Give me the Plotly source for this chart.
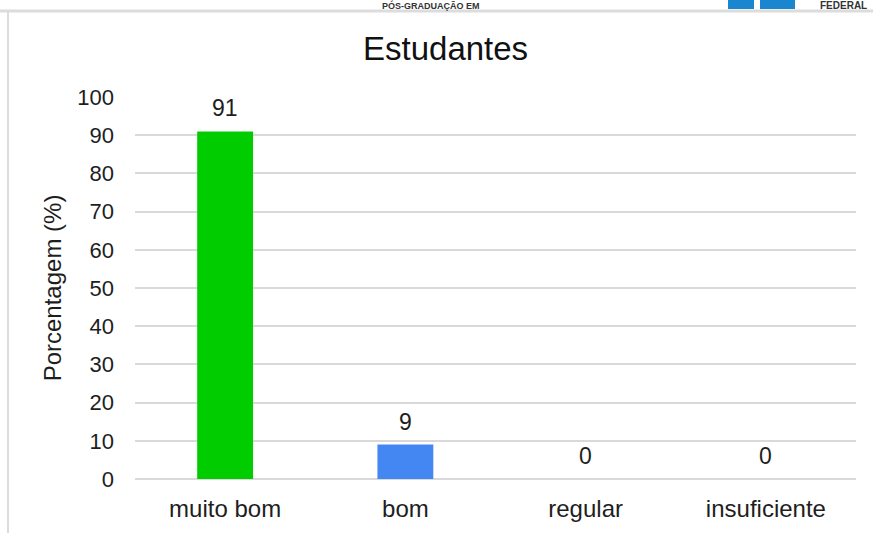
import plotly.graph_objects as go

categories = ["muito bom", "bom", "regular", "insuficiente"]
values = [91, 9, 0, 0]
colors = ["#00CC00", "#4487F3", "#4487F3", "#4487F3"]
y_ticks = [0, 10, 20, 30, 40, 50, 60, 70, 80, 90, 100]

W, H = 873, 533
L, R, T, B = 135, 17, 97, 54
pw, ph = W - L - R, H - T - B

def px(x):
    return (x - L) / pw

def py(y):
    return (H - B - y) / ph

font = "Liberation Sans, Arial, sans-serif"
txt = "#1e1e1e"

fig = go.Figure()
fig.add_trace(go.Bar(
    x=categories, y=values, marker=dict(color=colors, line=dict(width=0)),
    hoverinfo="x+y",
))

for c, v in zip(categories, values):
    fig.add_annotation(x=c, y=v, text=str(v), showarrow=False, yanchor="middle",
                       yshift=23, font=dict(size=23, color=txt, family=font))

# title
fig.add_annotation(xref="paper", yref="paper", x=px(445), y=py(48), text="Estudantes",
                   showarrow=False, font=dict(size=33, color="#111111", family=font),
                   xanchor="center", yanchor="middle")

# header fragments (slide background)
fig.add_annotation(xref="paper", yref="paper", x=px(431), y=py(5), text="<b>PÓS-GRADUAÇÃO EM</b>",
                   showarrow=False, font=dict(size=9, color="#333333", family=font),
                   xanchor="center", yanchor="middle", borderpad=0)
fig.add_annotation(xref="paper", yref="paper", x=px(843), y=py(5), text="<b>FEDERAL</b>",
                   showarrow=False, font=dict(size=10, color="#333333", family=font),
                   xanchor="center", yanchor="middle", borderpad=0)
fig.add_shape(type="rect", xref="paper", yref="paper", x0=px(728), x1=px(754), y0=py(9), y1=py(-2),
              fillcolor="#1a86d0", line=dict(width=0), layer="above")
fig.add_shape(type="rect", xref="paper", yref="paper", x0=px(760), x1=px(795), y0=py(9), y1=py(-2),
              fillcolor="#1a86d0", line=dict(width=0), layer="above")
fig.add_shape(type="line", xref="paper", yref="paper", x0=px(0), x1=px(873), y0=py(11), y1=py(11),
              line=dict(color="#dcdcdc", width=3), layer="above")
fig.add_shape(type="line", xref="paper", yref="paper", x0=px(8), x1=px(8), y0=py(11), y1=py(533),
              line=dict(color="#dcdcdc", width=2), layer="above")

fig.update_layout(
    width=W, height=H,
    margin=dict(l=L, r=R, t=T, b=B, pad=0),
    paper_bgcolor="white", plot_bgcolor="white",
    bargap=0.69,
    showlegend=False,
    font=dict(family=font, color=txt),
    xaxis=dict(tickfont=dict(size=24, color=txt), showgrid=False, showline=False,
               ticks="", ticklabelstandoff=13),
    yaxis=dict(range=[0, 100], tickvals=y_ticks, tickfont=dict(size=22, color=txt),
               gridcolor="#d9d9d9", gridwidth=2, zeroline=True, zerolinecolor="#d9d9d9",
               zerolinewidth=2, showline=False, ticks="", ticklabelstandoff=20,
               title=dict(text="Porcentagem (%)", font=dict(size=24, color=txt), standoff=8)),
)

fig.write_html("out.html", config={"displayModeBar": False},
               post_script="document.body.style.margin='0';document.body.style.padding='0';")
